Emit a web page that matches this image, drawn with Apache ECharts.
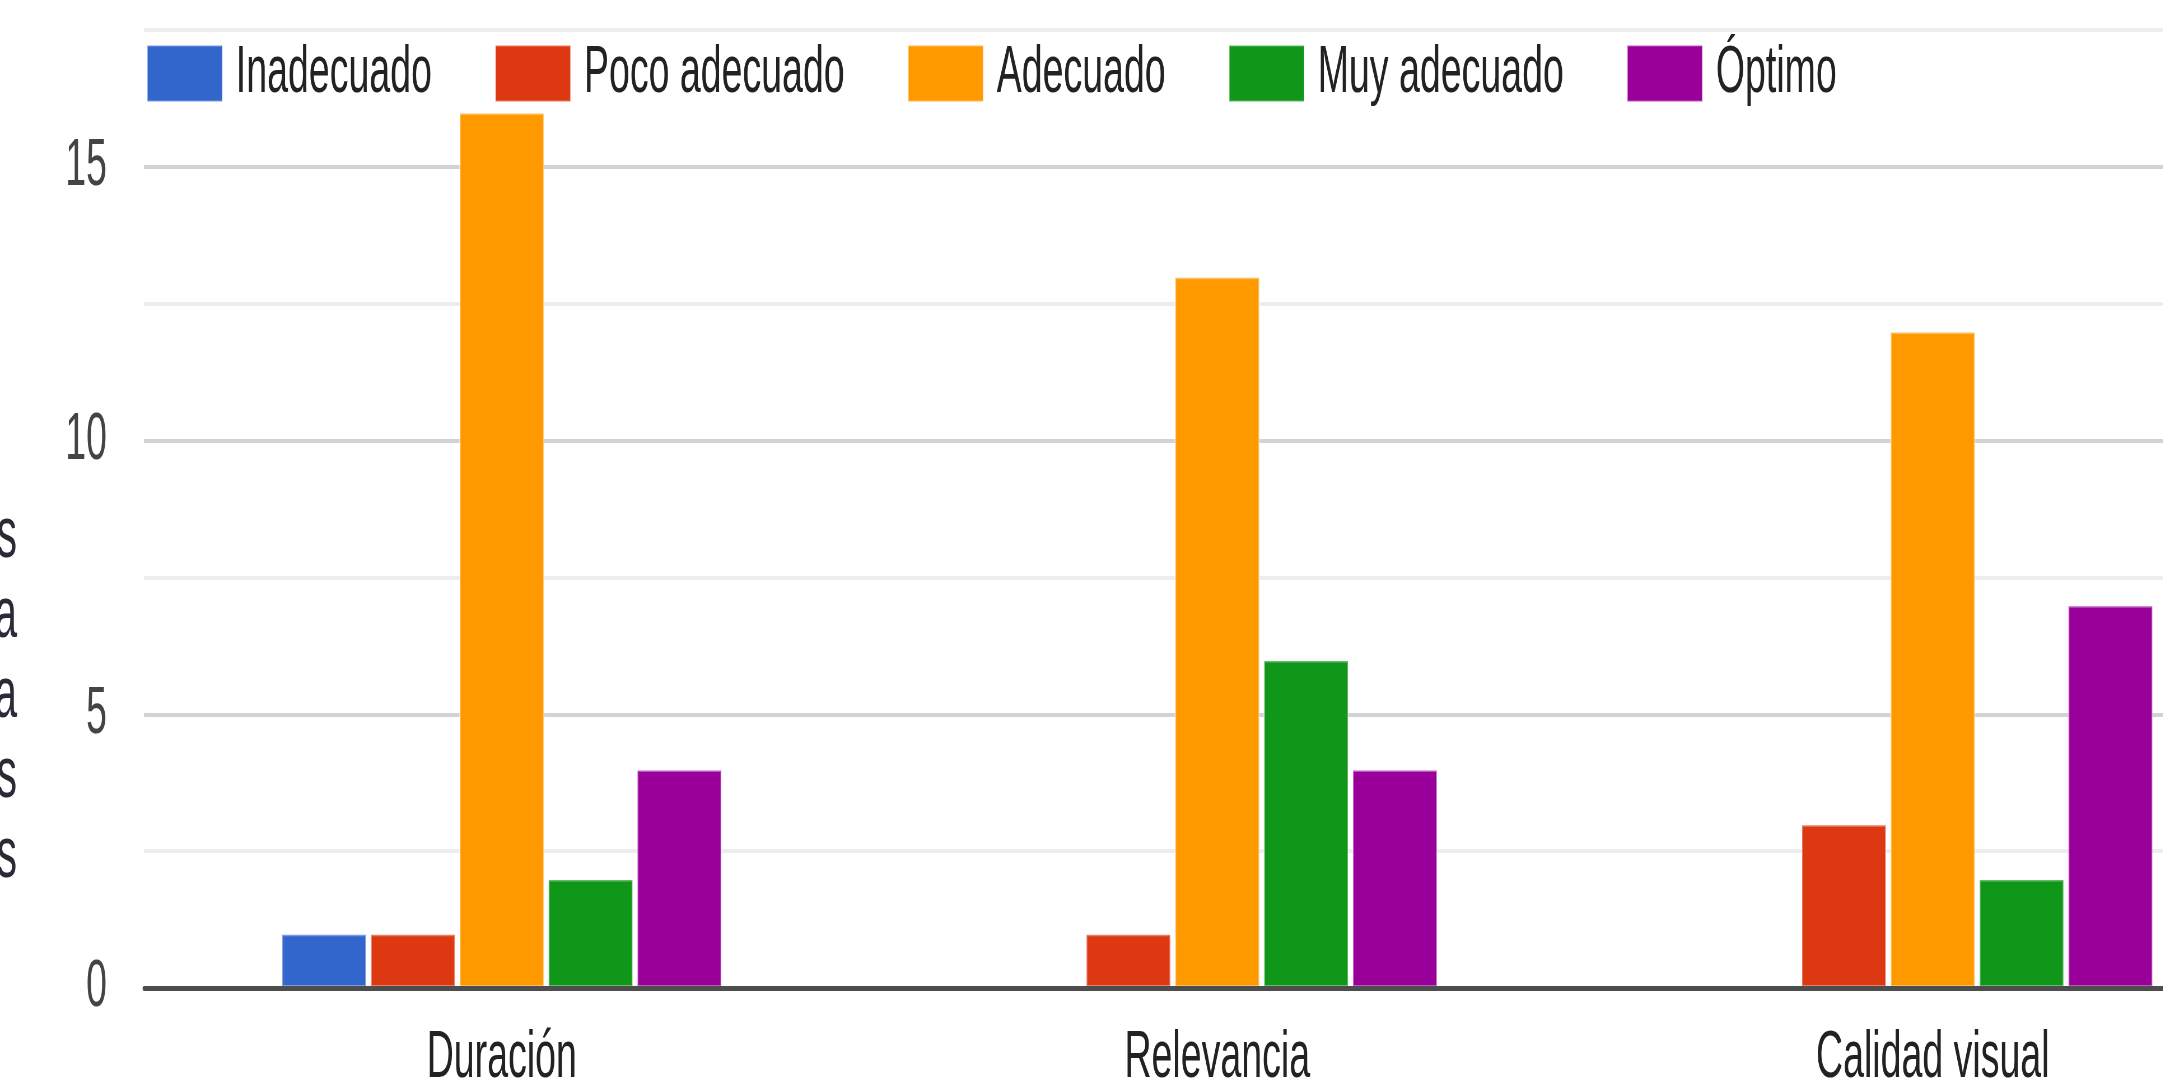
<!DOCTYPE html>
<html>
<head>
<meta charset="utf-8">
<title>Evaluación</title>
<script src="https://cdn.jsdelivr.net/npm/echarts@6/dist/echarts.min.js"></script>
<style>
    html, body { margin: 0; padding: 0; overflow: hidden; background: #fff; }
    /* la captura original sale comprimida en horizontal, así que se dibuja ancho y se encoge */
    #grafico { width: 4200px; height: 1084px; transform: scaleX(0.56); transform-origin: 0 0; }
</style>
</head>
<body>
<div id="grafico"></div>
<script>

//datos del gráfico
var categorias = ['Duración', 'Relevancia', 'Calidad visual'];
var nombresSeries = ['Inadecuado', 'Poco adecuado', 'Adecuado', 'Muy adecuado', 'Óptimo'];
var inadecuado = [1, 0, 0];
var pocoAdecuado = [1, 1, 3];
var adecuado = [16, 13, 12];
var muyAdecuado = [2, 6, 2];
var optimo = [4, 4, 7];
var marcasEjeY = [0, 5, 10, 15];
//restos de texto cortado a la izquierda de la captura
var letrasLado = ['s', 'a', 'a', 's', 's'];

(function () {

    var chart = echarts.init(document.getElementById('grafico'));
    var K = 0.56;  // factor de compresion horizontal
    var fuente = '"Liberation Sans", Arial, sans-serif';
    var colores = ['#3366cc', '#dc3912', '#ff9900', '#109618', '#990099'];
    var valores = [inadecuado, pocoAdecuado, adecuado, muyAdecuado, optimo];

    var series = [];
    for (var i = 0; i < nombresSeries.length; i++) {
        series.push({
            name: nombresSeries[i],
            type: 'bar',
            barCategoryGap: '38.4%',
            barGap: '4%',
            itemStyle: {
                color: colores[i],
                borderColor: 'rgba(255,255,255,0.35)',
                borderWidth: 3
            },
            data: valores[i]
        });
    }

    var letras = [];
    for (var j = 0; j < letrasLado.length; j++) {
        letras.push({
            type: 'text',
            x: 17 / K,
            y: 537 + j * 80,
            style: {
                text: letrasLado[j],
                font: '72px ' + fuente,
                fill: '#2b2a36',
                textAlign: 'right',
                textVerticalAlign: 'middle'
            }
        });
    }

    var option = {
        animation: false,
        color: colores,
        textStyle: { fontFamily: fuente },
        legend: {
            data: nombresSeries,
            left: 144 / K,
            top: 35,
            icon: 'rect',
            itemWidth: 75 / K,
            itemHeight: 56,
            itemGap: 63 / K,
            textStyle: {
                fontSize: 67,
                color: '#222',
                padding: [0, 0, 0, 19]
            }
        },
        grid: {
            left: 144 / K,
            top: 30,
            width: (2290.5 - 144) / K,
            height: 958,
            outerBoundsMode: 'none'
        },
        xAxis: {
            type: 'category',
            data: categorias,
            z: 5,
            axisTick: { show: false },
            axisLine: { lineStyle: { color: '#4d4d4d', width: 5 } },
            axisLabel: { fontSize: 67, color: '#222', margin: 37 }
        },
        yAxis: {
            type: 'value',
            min: 0,
            max: 17.5,
            interval: 2.5,
            axisLine: { show: false },
            axisTick: { show: false },
            axisLabel: {
                fontSize: 67,
                color: '#444',
                margin: 37 / K,
                formatter: function (v) {
                    return marcasEjeY.indexOf(v) >= 0 ? String(v) : '';
                }
            },
            splitLine: {
                lineStyle: { color: ['#d3d3d3', '#ededed'], width: 4 }
            }
        },
        graphic: letras,
        series: series
    };

    chart.setOption(option);
})();
</script>
</body>
</html>
